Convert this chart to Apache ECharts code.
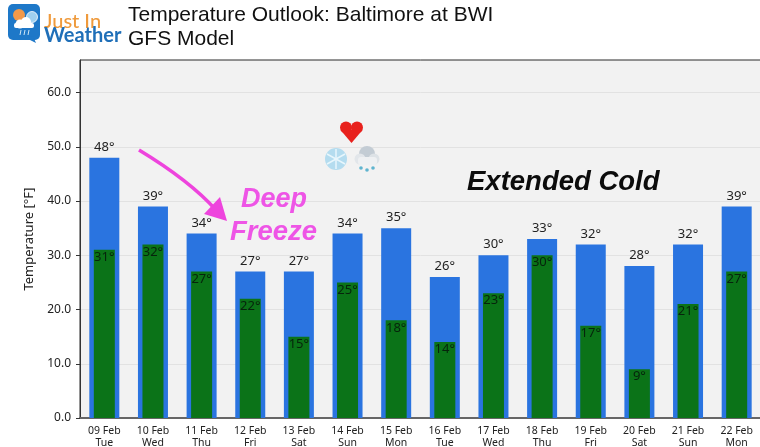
<!DOCTYPE html>
<html>
<head>
<meta charset="utf-8">
<style>html,body{margin:0;padding:0;background:#fff;overflow:hidden}#main{width:760px;height:447px}</style>
<script src="https://cdn.jsdelivr.net/npm/echarts@6/dist/echarts.min.js"></script>
</head>
<body>
<div id="main"></div>
<script>
// values
const days = ['09 Feb\nTue','10 Feb\nWed','11 Feb\nThu','12 Feb\nFri','13 Feb\nSat','14 Feb\nSun','15 Feb\nMon','16 Feb\nTue','17 Feb\nWed','18 Feb\nThu','19 Feb\nFri','20 Feb\nSat','21 Feb\nSun','22 Feb\nMon'];
const highs = [48,39,34,27,27,34,35,26,30,33,32,28,32,39];
const lows = [31,32,27,22,15,25,18,14,23,30,17,9,21,27];
const yTicks = [0,10,20,30,40,50,60];

const font = 'Noto Sans';
let chart = echarts.init(document.getElementById('main'), null, {renderer: 'canvas'});

const extras = [
    // title
    {type: 'text', left: 128, top: 5, style: {text: 'Temperature Outlook: Baltimore at BWI', font: '21px "Liberation Sans"', fill: '#111'}},
    {type: 'text', left: 128, top: 29, style: {text: 'GFS Model', font: '21px "Liberation Sans"', fill: '#111'}},
    // logo
    {type: 'rect', shape: {x: 8, y: 4, width: 32, height: 36, r: 5}, style: {fill: '#1e78c8'}},
    {type: 'polygon', shape: {points: [[26,38],[36,43],[33,36]]}, style: {fill: '#1e78c8'}},
    {type: 'circle', shape: {cx: 19, cy: 15, r: 6}, style: {fill: '#f2994a'}},
    {type: 'circle', shape: {cx: 32, cy: 17, r: 5.5}, style: {fill: '#9fd0ef', stroke: '#fff', lineWidth: 0.8}},
    {type: 'circle', shape: {cx: 20, cy: 24, r: 4.5}, style: {fill: '#fff'}},
    {type: 'circle', shape: {cx: 26, cy: 22, r: 5}, style: {fill: '#fff'}},
    {type: 'rect', shape: {x: 14, y: 23, width: 20, height: 5, r: 2}, style: {fill: '#fff'}},
    {type: 'line', shape: {x1: 21, y1: 30, x2: 20, y2: 35}, style: {stroke: '#cfe6f5', lineWidth: 1}},
    {type: 'line', shape: {x1: 25, y1: 30, x2: 24, y2: 35}, style: {stroke: '#cfe6f5', lineWidth: 1}},
    {type: 'line', shape: {x1: 29, y1: 30, x2: 28, y2: 35}, style: {stroke: '#cfe6f5', lineWidth: 1}},
    {type: 'text', left: 44, top: 12, style: {text: 'Just In', font: '500 20px Lato', fill: '#ef9a3c'}},
    {type: 'text', left: 44, top: 26, style: {text: 'Weather', font: '700 20px Lato', fill: '#1f6fb8'}},
    // arrow
    {type: 'bezierCurve', shape: {x1: 139, y1: 150, x2: 216, y2: 210, cpx1: 172, cpy1: 170, cpx2: 198, cpy2: 190}, style: {stroke: '#ee44dd', lineWidth: 3.5, fill: 'none'}},
    {type: 'polygon', shape: {points: [[227,221],[204,214],[220,197]]}, style: {fill: '#ee44dd'}},
    // annotations
    {type: 'text', left: 241, top: 186, style: {text: 'Deep', font: 'italic bold 27px "Liberation Sans"', fill: '#ee55e6'}},
    {type: 'text', left: 230, top: 219, style: {text: 'Freeze', font: 'italic bold 27.5px "Liberation Sans"', fill: '#ee55e6'}},
    {type: 'text', left: 467, top: 169, style: {text: 'Extended Cold', font: 'italic bold 27.5px "Liberation Sans"', fill: '#0c0c0c'}},
    // heart
    {type: 'circle', shape: {cx: 346, cy: 127.5, r: 6}, style: {fill: '#e8211d'}},
    {type: 'circle', shape: {cx: 357, cy: 127.5, r: 6}, style: {fill: '#e8211d'}},
    {type: 'polygon', shape: {points: [[340.5,130],[362.5,130],[351.5,143]]}, style: {fill: '#e8211d'}},
    // snowflake
    {type: 'circle', shape: {cx: 336, cy: 159, r: 11}, style: {fill: '#b4dcef'}},
    {type: 'line', shape: {x1: 336, y1: 149, x2: 336, y2: 169}, style: {stroke: '#e8f6fc', lineWidth: 1.5}},
    {type: 'line', shape: {x1: 327, y1: 154, x2: 345, y2: 164}, style: {stroke: '#e8f6fc', lineWidth: 1.5}},
    {type: 'line', shape: {x1: 345, y1: 154, x2: 327, y2: 164}, style: {stroke: '#e8f6fc', lineWidth: 1.5}},
    // rain cloud
    {type: 'circle', shape: {cx: 367, cy: 154, r: 8}, style: {fill: '#c3ccd4'}},
    {type: 'circle', shape: {cx: 360, cy: 159, r: 5.5}, style: {fill: '#e2e6ea'}},
    {type: 'circle', shape: {cx: 374, cy: 159, r: 5.5}, style: {fill: '#dde2e6'}},
    {type: 'rect', shape: {x: 358, y: 157, width: 19, height: 8, r: 3}, style: {fill: '#eef0f2'}},
    {type: 'circle', shape: {cx: 361, cy: 168, r: 1.8}, style: {fill: '#5fb4cf'}},
    {type: 'circle', shape: {cx: 367, cy: 170, r: 1.8}, style: {fill: '#5fb4cf'}},
    {type: 'circle', shape: {cx: 373, cy: 168, r: 1.8}, style: {fill: '#5fb4cf'}}
];

chart.setOption({
    animation: false,
    backgroundColor: '#fff',
    grid: {left: 80, top: 60, width: 681, height: 358, outerBoundsMode: 'none', show: true, backgroundColor: '#f2f2f2', borderColor: '#2b2b2b', borderWidth: 1},
    xAxis: [
        {
            type: 'category', data: days, boundaryGap: true,
            axisLine: {lineStyle: {color: '#666', width: 2}},
            axisTick: {alignWithLabel: true, length: 4, lineStyle: {color: '#333'}},
            axisLabel: {fontFamily: font, fontSize: 10.5, color: '#222', lineHeight: 12, margin: 7, interval: 0}
        },
        {type: 'category', data: days, show: false}
    ],
    yAxis: {
        type: 'value', min: 0, max: 66, interval: 10,
        name: 'Temperature [°F]', nameLocation: 'middle', nameGap: 40,
        nameTextStyle: {fontFamily: font, fontSize: 13, color: '#222'},
        axisLine: {show: true, lineStyle: {color: '#333', width: 1}},
        axisTick: {show: true, length: 4, customValues: yTicks, lineStyle: {color: '#333'}},
        axisLabel: {fontFamily: font, fontSize: 12, color: '#222', margin: 9, customValues: yTicks, formatter: v => v.toFixed(1)},
        splitLine: {show: true, lineStyle: {color: '#e2e2e2', width: 1}}
    },
    series: [
        {
            type: 'bar', xAxisIndex: 0, data: highs, barWidth: 30,
            itemStyle: {color: '#2a74e0'},
            label: {show: true, position: 'top', distance: 4, fontFamily: font, fontSize: 13, color: '#222', formatter: p => p.value + '°'}
        },
        {
            type: 'bar', xAxisIndex: 1, data: lows, barWidth: 21,
            itemStyle: {color: '#0b7318'},
            label: {show: true, position: 'insideTop', distance: 1, fontFamily: font, fontSize: 13, color: '#06240c', formatter: p => p.value + '°'}
        }
    ],
    graphic: extras.map(e => ({...e, z: 100}))
});
</script>
</body>
</html>
